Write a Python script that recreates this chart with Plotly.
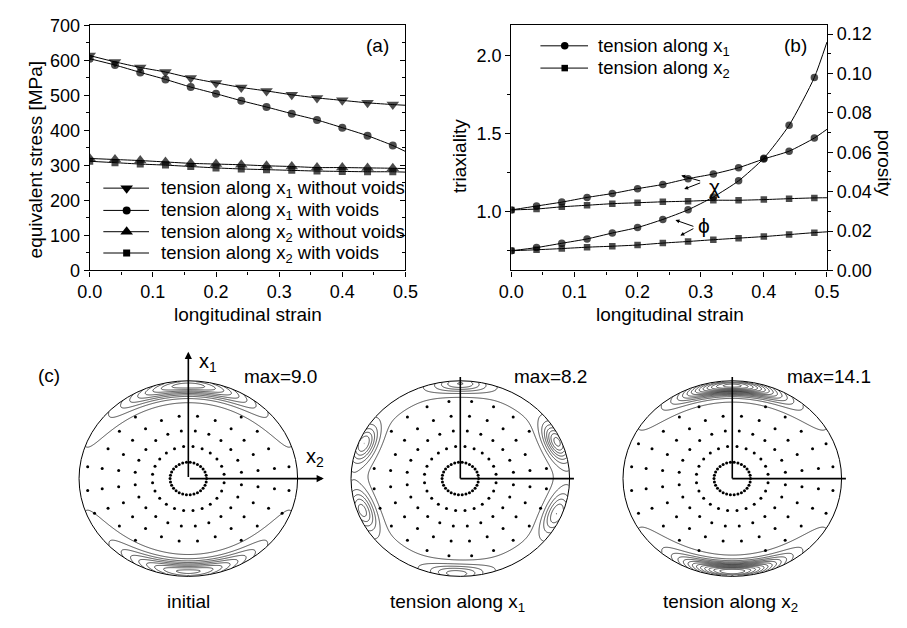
import numpy as np
import plotly.graph_objects as go

W, H = 907, 628
FONT = "Arial, Liberation Sans, sans-serif"

# ---------------- data ----------------
strain = [0.00, 0.04, 0.08, 0.12, 0.16, 0.20, 0.24, 0.28, 0.32, 0.36, 0.40, 0.44, 0.48]
strain_end = 0.5

# panel (a) equivalent stress [MPa]
a_x1_novoid = [614, 596, 580, 567, 550, 536, 523, 513, 502, 493, 486, 479, 474]
a_x1_novoid_end = 472
a_x1_void = [605, 587, 566, 546, 524, 505, 485, 467, 448, 430, 408, 385, 357]
a_x1_void_end = 340
a_x2_novoid = [320, 317, 314, 310, 306, 304, 302, 299, 297, 294, 294, 293, 292]
a_x2_novoid_end = 291
a_x2_void = [312, 308, 304, 301, 297, 293, 290, 288, 286, 284, 283, 282, 282]
a_x2_void_end = 281

# panel (b) triaxiality (left axis) and porosity (right axis)
b_tri_x1 = [1.01, 1.035, 1.06, 1.09, 1.115, 1.146, 1.173, 1.21, 1.24, 1.28, 1.336, 1.386, 1.47]
b_tri_x1_end = 1.526
b_tri_x2 = [1.01, 1.016, 1.03, 1.04, 1.05, 1.056, 1.062, 1.066, 1.072, 1.072, 1.076, 1.082, 1.087]
b_tri_x2_end = 1.088
b_por_x1 = [0.010, 0.0116, 0.0138, 0.016, 0.019, 0.0218, 0.0259, 0.0308, 0.0373, 0.0455, 0.057, 0.0737, 0.098]
b_por_x1_end = 0.116
b_por_x2 = [0.010, 0.0105, 0.0111, 0.0118, 0.0123, 0.0129, 0.0139, 0.0147, 0.0156, 0.0164, 0.0172, 0.0182, 0.0192]
b_por_x2_end = 0.0196

legend_a = ["tension along x<sub>1</sub> without voids", "tension along x<sub>1</sub> with voids",
            "tension along x<sub>2</sub> without voids", "tension along x<sub>2</sub> with voids"]
legend_b = ["tension along x<sub>1</sub>", "tension along x<sub>2</sub>"]

# panel (c) pole figures: peaks (angle deg, radius, amplitude, angular width deg, radial width)
pf_initial_peaks = [(90, 0.95, 7.9, 32, 0.09), (270, 0.95, 7.6, 32, 0.09),
                    (90, 1.0, 1.8, 75, 0.25), (270, 1.0, 1.8, 75, 0.25)]
pf_x1_peaks = [(23, 0.96, 6.9, 11, 0.1), (158, 0.95, 5.5, 11, 0.1), (200, 0.95, 5.0, 12, 0.1),
               (338, 0.95, 4.5, 12, 0.1), (90, 0.97, 4.5, 13, 0.08), (268, 0.97, 4.0, 14, 0.08),
               (0, 1.0, 1.6, 1e6, 0.2)]
pf_x2_peaks = [(90, 0.95, 12.8, 25, 0.08), (270, 0.95, 12.2, 25, 0.08),
               (90, 1.0, 1.8, 70, 0.25), (270, 1.0, 1.8, 70, 0.25)]
pf_max = [9.0, 8.2, 14.1]
pf_titles = ["initial", "tension along x<sub>1</sub>", "tension along x<sub>2</sub>"]
# measurement grid rings (normalized radius, count, angular offset deg)
ring_radius = [0.167, 0.33, 0.49, 0.643, 0.795, 0.929]
ring_count = [30, 24, 24, 24, 24, 24]
ring_offset = [0, 7.5, 7.5, 7.5, 7.5, 7.5]

# ---------------- figure ----------------
fig = go.Figure()

def dom_x(p0, p1):
    return [p0 / W, p1 / W]

def dom_y(p_top, p_bot):
    return [1 - p_bot / H, 1 - p_top / H]

def add_series(x, y, yend, symbol, size, xa, ya):
    xs = list(x) + [strain_end]
    ys = list(y) + [yend]
    sizes = [size] * len(x) + [0]
    fig.add_trace(go.Scatter(x=xs, y=ys, mode="lines+markers", xaxis=xa, yaxis=ya,
                             line=dict(color="black", width=1, shape="spline", smoothing=0.6),
                             marker=dict(symbol=symbol, size=sizes, color="black", line=dict(width=0)),
                             showlegend=False, hoverinfo="skip"))

# panel (a)
add_series(strain, a_x1_novoid, a_x1_novoid_end, "triangle-down", 11, "x", "y")
add_series(strain, a_x1_void, a_x1_void_end, "circle", 8, "x", "y")
add_series(strain, a_x2_novoid, a_x2_novoid_end, "triangle-up", 11, "x", "y")
add_series(strain, a_x2_void, a_x2_void_end, "square", 7, "x", "y")
fig.add_trace(go.Scatter(x=[0], y=[0], xaxis="x", yaxis="y2", mode="markers",
                         marker=dict(opacity=0), showlegend=False, hoverinfo="skip"))

# panel (b)
add_series(strain, b_tri_x1, b_tri_x1_end, "circle", 7.5, "x2", "y3")
add_series(strain, b_tri_x2, b_tri_x2_end, "square", 6.5, "x2", "y3")
add_series(strain, b_por_x1, b_por_x1_end, "circle", 7.5, "x2", "y4")
add_series(strain, b_por_x2, b_por_x2_end, "square", 6.5, "x2", "y4")

# panel (c)
def density(X, Y, peaks):
    R = np.hypot(X, Y)
    T = np.degrees(np.arctan2(Y, X))
    Z = np.zeros_like(R, dtype=float)
    for th, rk, A, wt, wr in peaks:
        d = (T - th + 180) % 360 - 180
        Z = Z + A * np.exp(-(d / wt) ** 2 - ((R - rk) / wr) ** 2)
    return Z

pole_cx = [180.5, 460.5, 740.5]
pole_cy = 484
rx, ry = 112.5, 101
ext = 1.4
pf_peaks = [pf_initial_peaks, pf_x1_peaks, pf_x2_peaks]
g = np.linspace(-1, 1, 201)
GX, GY = np.meshgrid(g, g)

# grid dots
dx, dy = [], []
for r, n, off in zip(ring_radius, ring_count, ring_offset):
    ang = np.radians(off + 360.0 * np.arange(n) / n)
    dx.extend(r * np.cos(ang))
    dy.extend(r * np.sin(ang))
dx = np.array(dx)
dy = np.array(dy)

for k in range(3):
    xa = "x%d" % (k + 3)
    ya = "y%d" % (k + 5)
    Z = density(GX, GY, pf_peaks[k])
    Z[np.hypot(GX, GY) > 1.0] = np.nan
    fig.add_trace(go.Contour(x=g, y=g, z=Z, xaxis=xa, yaxis=ya,
                             contours=dict(start=1, end=pf_max[k], size=1, coloring="lines"),
                             line=dict(width=0.7, smoothing=0.3),
                             colorscale=[[0, "black"], [1, "black"]], showscale=False,
                             hoverinfo="skip"))
    keep = density(dx, dy, pf_peaks[k]) < 1.0
    fig.add_trace(go.Scatter(x=dx[keep], y=dy[keep], mode="markers", xaxis=xa, yaxis=ya,
                             marker=dict(size=3, color="black"), showlegend=False, hoverinfo="skip"))
    fig.add_shape(type="circle", xref=xa, yref=ya, x0=-1, y0=-1, x1=1, y1=1,
                  line=dict(color="black", width=1))

# pixel overlay axis: legends
leg_a_rows = [184, 207, 229, 251]
leg_a_symbols = [("triangle-down", 11), ("circle", 8), ("triangle-up", 11), ("square", 7)]
for yrow, (sym, sz), txt_ in zip(leg_a_rows, leg_a_symbols, legend_a):
    fig.add_trace(go.Scatter(x=[93, 140], y=[yrow, yrow], mode="lines", xaxis="x6", yaxis="y8",
                             line=dict(color="black", width=1), showlegend=False, hoverinfo="skip"))
    fig.add_trace(go.Scatter(x=[117], y=[yrow], mode="markers", xaxis="x6", yaxis="y8",
                             marker=dict(symbol=sym, size=sz, color="black"), showlegend=False, hoverinfo="skip"))
    fig.add_annotation(x=150, y=yrow + 1, xref="x6", yref="y8", text=txt_, showarrow=False,
                       xanchor="left", yanchor="middle", font=dict(size=18.5))

leg_b_rows = [37, 60]
leg_b_symbols = [("circle", 7.5), ("square", 6.5)]
for yrow, (sym, sz), txt_ in zip(leg_b_rows, leg_b_symbols, legend_b):
    fig.add_trace(go.Scatter(x=[543, 592], y=[yrow, yrow], mode="lines", xaxis="x6", yaxis="y8",
                             line=dict(color="black", width=1), showlegend=False, hoverinfo="skip"))
    fig.add_trace(go.Scatter(x=[568], y=[yrow], mode="markers", xaxis="x6", yaxis="y8",
                             marker=dict(symbol=sym, size=sz, color="black"), showlegend=False, hoverinfo="skip"))
    fig.add_annotation(x=600, y=yrow + 1, xref="x6", yref="y8", text=txt_, showarrow=False,
                       xanchor="left", yanchor="middle", font=dict(size=18.5))

def txt(x, y, s, angle=0, xanchor="center", size=19):
    fig.add_annotation(x=x, y=y, xref="x6", yref="y8", text=s, showarrow=False, textangle=angle,
                       xanchor=xanchor, yanchor="middle", font=dict(size=size))

txt(375, 37, "(a)")
txt(806, 37, "(b)")
txt(37, 378, "(c)")
txt(242, 315, "longitudinal strain")
txt(676, 315, "longitudinal strain")
txt(23, 155, "equivalent stress [MPa]", angle=-90)
txt(459, 151, "triaxiality", angle=-90)
txt(897, 158, "porosity", angle=90)
txt(722, 182, "χ", size=21)
txt(711, 223, "ϕ", size=21)
txt(275, 379, "max=%.1f" % pf_max[0])
txt(553, 379, "max=%.1f" % pf_max[1])
txt(840, 379, "max=%.1f" % pf_max[2])
txt(181, 611, pf_titles[0])
txt(458, 612, pf_titles[1])
txt(739, 612, pf_titles[2])
txt(189, 364, "x<sub>1</sub>", xanchor="left", size=20)
txt(300, 462, "x<sub>2</sub>", xanchor="left", size=20)

def arrow(hx, hy, tx, ty, xref="x6", yref="y8", width=1, head=2, size=0.8):
    fig.add_annotation(x=hx, y=hy, ax=tx, ay=ty, xref=xref, yref=yref, axref=xref, ayref=yref,
                       text="", showarrow=True, arrowhead=head, arrowsize=size, arrowwidth=width,
                       arrowcolor="black")

arrow(688, 171, 709, 177)
arrow(691, 185, 709, 178)
arrow(682, 217, 702, 224)
arrow(687, 233, 702, 225)

# pole figure axes lines
arrow(0, (pole_cy - 353) / ry, 0, 0, xref="x3", yref="y5", width=1.6, head=2, size=0.9)
arrow((320 - pole_cx[0]) / rx, 0, 0, 0, xref="x3", yref="y5", width=1.6, head=2, size=0.9)
for k in (1, 2):
    xa = "x%d" % (k + 3)
    ya = "y%d" % (k + 5)
    fig.add_shape(type="line", xref=xa, yref=ya, x0=0, y0=0, x1=0, y1=1.04,
                  line=dict(color="black", width=1.6))
    fig.add_shape(type="line", xref=xa, yref=ya, x0=0, y0=0, x1=1.04, y1=0,
                  line=dict(color="black", width=1.6))

# ---------------- layout ----------------
common = dict(showgrid=False, zeroline=False, showline=True, linecolor="black", linewidth=1.2,
              ticks="outside", ticklen=5, tickwidth=1, tickcolor="black",
              tickfont=dict(size=18, family=FONT, color="black"))

ya_dom = dom_y(16, 269)
layout = dict(
    width=W, height=H, autosize=False, margin=dict(l=0, r=0, t=0, b=0, pad=0),
    paper_bgcolor="white", plot_bgcolor="rgba(0,0,0,0)",
    font=dict(family=FONT, color="black", size=19),
    showlegend=False,
    xaxis=dict(domain=dom_x(79, 404), anchor="y", range=[0, 0.5], dtick=0.1, tickformat=".1f",
               mirror=True, minor=dict(ticks="outside", ticklen=3, dtick=0.05, tickcolor="black"), **common),
    yaxis=dict(domain=ya_dom, anchor="x", range=[0, 700], dtick=100, mirror=True,
               minor=dict(ticks="outside", ticklen=3, dtick=50, tickcolor="black"), **common),
    yaxis2=dict(overlaying="y", anchor="x", side="right", range=[0, 700], dtick=100,
                showgrid=False, zeroline=False, showline=False, showticklabels=False,
                ticks="inside", ticklen=5, tickcolor="black",
                minor=dict(ticks="inside", ticklen=3, dtick=50, tickcolor="black")),
    xaxis2=dict(domain=dom_x(513, 838), anchor="y3", range=[0, 0.5], dtick=0.1, tickformat=".1f",
                mirror=True, minor=dict(ticks="outside", ticklen=3, dtick=0.05, tickcolor="black"), **common),
    yaxis3=dict(domain=ya_dom, anchor="x2", range=[0.623, 2.19], tickvals=[1.0, 1.5, 2.0], tickformat=".1f",
                minor=dict(ticks="outside", ticklen=3, tickvals=[0.75, 1.25, 1.75], tickcolor="black"), **common),
    yaxis4=dict(overlaying="y3", anchor="x2", side="right", range=[0, 0.1244], dtick=0.02, tickformat=".2f",
                minor=dict(ticks="outside", ticklen=3, dtick=0.01, tickcolor="black"), **common),
    xaxis6=dict(domain=[0, 1], anchor="y8", range=[0, W], visible=False, fixedrange=True),
    yaxis8=dict(domain=[0, 1], anchor="x6", range=[H, 0], visible=False, fixedrange=True),
)
for k in range(3):
    cx = pole_cx[k]
    layout["xaxis%d" % (k + 3)] = dict(domain=dom_x(cx - ext * rx, cx + ext * rx), anchor="y%d" % (k + 5),
                                       range=[-ext, ext], visible=False, fixedrange=True)
    layout["yaxis%d" % (k + 5)] = dict(domain=dom_y(pole_cy - ext * ry, pole_cy + ext * ry),
                                       anchor="x%d" % (k + 3), range=[-ext, ext], visible=False, fixedrange=True)

fig.update_layout(**layout)
fig.write_html("out.html", config={"displayModeBar": False, "responsive": False},
               post_script="document.body.style.margin='0px';document.body.style.overflow='hidden';")
